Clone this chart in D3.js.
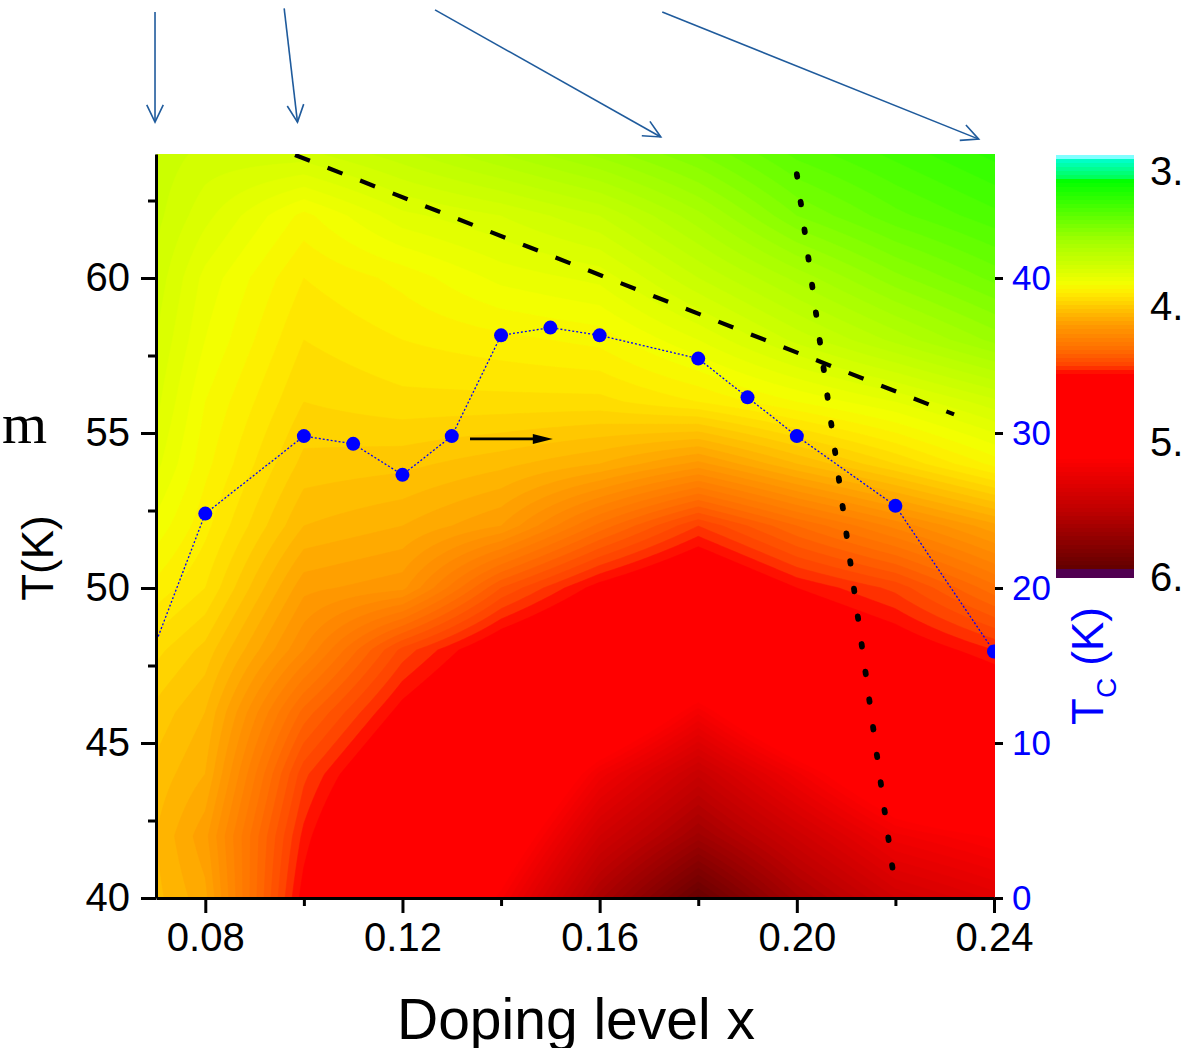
<!DOCTYPE html>
<html>
<head>
<meta charset="utf-8">
<script src="https://cdn.jsdelivr.net/npm/d3@7"></script>
<style>
  body { margin: 0; background: #fff; }
  svg { display: block; }
  text { font-family: "Liberation Sans", Arial, sans-serif; }
</style>
</head>
<body>
<svg id="chart" width="1198" height="1048"></svg>
<script>
// ---- map grid: doping columns and temperature rows ----
const dopingGrid = [0.07, 0.08, 0.10, 0.12, 0.14, 0.16, 0.18, 0.20, 0.22, 0.24];
const tempGrid = [40, 42, 44, 46, 48, 50, 52, 54, 56, 58, 60, 62, 64];
// map values, one row per temperature (40 K first), one entry per doping column
const mapRows = [
  [4.04, 4.10, 4.52, 4.82, 5.15, 5.60, 5.92, 5.62, 5.40, 5.30],
  [4.05, 4.13, 4.48, 4.72, 4.98, 5.40, 5.65, 5.42, 5.20, 5.12],
  [4.03, 4.08, 4.43, 4.62, 4.80, 5.20, 5.45, 5.20, 4.95, 4.75],
  [4.00, 4.05, 4.33, 4.52, 4.65, 4.88, 5.18, 4.88, 4.70, 4.60],
  [3.95, 4.00, 4.20, 4.42, 4.56, 4.66, 4.85, 4.62, 4.55, 4.47],
  [3.88, 3.93, 4.13, 4.16, 4.38, 4.52, 4.62, 4.50, 4.43, 4.30],
  [3.82, 3.89, 4.05, 4.08, 4.14, 4.30, 4.44, 4.32, 4.22, 4.12],
  [3.77, 3.86, 4.00, 4.01, 4.04, 4.08, 4.15, 4.05, 3.96, 3.86],
  [3.74, 3.84, 3.96, 3.94, 3.94, 3.94, 3.90, 3.84, 3.78, 3.70],
  [3.72, 3.81, 3.93, 3.90, 3.88, 3.86, 3.78, 3.68, 3.59, 3.50],
  [3.70, 3.79, 3.90, 3.86, 3.80, 3.77, 3.66, 3.56, 3.46, 3.38],
  [3.68, 3.74, 3.85, 3.76, 3.72, 3.66, 3.55, 3.42, 3.34, 3.28],
  [3.67, 3.70, 3.70, 3.64, 3.57, 3.50, 3.42, 3.32, 3.26, 3.20]
];

// ---- superconducting Tc (right axis) ----
const tcDoping = [0.06, 0.08, 0.10, 0.11, 0.12, 0.13, 0.14, 0.15, 0.16, 0.18, 0.19, 0.20, 0.22, 0.24];
const tcValues = [8.2, 24.8, 29.8, 29.3, 27.3, 29.8, 36.3, 36.8, 36.3, 34.8, 32.3, 29.8, 25.3, 15.9];

// ---- guide lines (doping, T) ----
const dashedGuide = [[0.0982, 63.97], [0.2319, 55.6]];
const dottedGuide = [[0.2000, 63.35], [0.2201, 40.17]];
const tcArrow = [[0.1337, 54.81], [0.1505, 54.81]];
// arrows above the frame: [tail, tip] in (doping, T)
const topArrows = [
  [[0.0698, 68.58], [0.0698, 65.03]],
  [[0.0960, 68.70], [0.0987, 65.03]],
  [[0.1266, 68.65], [0.1724, 64.55]],
  [[0.1727, 68.58], [0.2369, 64.48]]
];

// ---- ticks ----
const xTicks = [0.08, 0.12, 0.16, 0.20, 0.24];
const xMinorTicks = [0.10, 0.14, 0.18, 0.22];
const yTicks = [40, 45, 50, 55, 60];
const yMinorTicks = [42.5, 47.5, 52.5, 57.5, 62.5];
const tcTicks = [0, 10, 20, 30, 40];
const cbTicks = [3, 4, 5, 6];
const cbTickLabels = ["3.", "4.", "5.", "6."];

// ---- colour map (value -> colour) ----
const cmapValues = [2.88, 2.92, 2.921, 3.06, 3.07, 3.51, 3.83, 3.90, 4.03, 4.15, 4.32, 4.44, 4.47, 4.50, 5.12, 5.50, 5.95, 5.951, 6.0];
const cmapColors = ["#80ffff", "#80ffff", "#00ffc8", "#00ff50", "#00ff00", "#a0ff00", "#f4ff00", "#ffec00",
                    "#ffc000", "#ff9800", "#ff6c00", "#ff4000", "#ff2000", "#ff0000", "#ff0000", "#c00000",
                    "#600000", "#500050", "#500050"];
const color = d3.scaleLinear().domain(cmapValues).range(cmapColors).interpolate(d3.interpolateRgb).clamp(true);
const levelStep = 0.03;
const levels = d3.range(2.88, 6.0 - 1e-9, levelStep);

// ---- layout ----
const svg = d3.select("#chart");
const plot = { left: 156, right: 994, top: 154, bottom: 898 };
const x = d3.scaleLinear().domain([0.07, 0.24]).range([plot.left, plot.right]);
const y = d3.scaleLinear().domain([40, 64]).range([plot.bottom, plot.top]);
const yTc = d3.scaleLinear().domain([0, 48]).range([plot.bottom, plot.top]);
const cbar = { left: 1056, width: 78 };
const cb = d3.scaleLinear().domain([2.88, 6.0]).range([155, 577]);

svg.append("defs").append("clipPath").attr("id", "plotClip")
  .append("rect")
  .attr("x", plot.left).attr("y", plot.top)
  .attr("width", plot.right - plot.left + 1).attr("height", plot.bottom - plot.top);

// bilinear look-up in the measured grid
function fieldAt(xv, tv) {
  const i = Math.min(dopingGrid.length - 2, Math.max(0, d3.bisectRight(dopingGrid, xv) - 1));
  const j = Math.min(tempGrid.length - 2, Math.max(0, d3.bisectRight(tempGrid, tv) - 1));
  const u = (xv - dopingGrid[i]) / (dopingGrid[i + 1] - dopingGrid[i]);
  const w = (tv - tempGrid[j]) / (tempGrid[j + 1] - tempGrid[j]);
  const z00 = mapRows[j][i], z10 = mapRows[j][i + 1];
  const z01 = mapRows[j + 1][i], z11 = mapRows[j + 1][i + 1];
  return (1 - u) * (1 - w) * z00 + u * (1 - w) * z10 + (1 - u) * w * z01 + u * w * z11;
}

// resample onto a fine regular grid for the contour generator
const nx = 341, ny = 241;
const dx = 0.17 / (nx - 1), dT = 24 / (ny - 1);
const grid = new Array(nx * ny);
for (let j = 0; j < ny; j++) {
  for (let i = 0; i < nx; i++) {
    grid[j * nx + i] = fieldAt(0.07 + i * dx, 40 + j * dT);
  }
}
const contours = d3.contours().size([nx, ny]).thresholds(levels)(grid);
const proj = d3.geoTransform({
  point(px, py) {
    this.stream.point(x(0.07 + (px - 0.5) * dx), y(40 + (py - 0.5) * dT));
  }
});
const path = d3.geoPath(proj);

svg.append("g").attr("clip-path", "url(#plotClip)")
  .selectAll("path").data(contours).join("path")
  .attr("d", path)
  .attr("fill", d => color(d.value + levelStep / 2))
  .attr("stroke", d => color(d.value + levelStep / 2))
  .attr("stroke-width", 0.6);

// ---- guide lines ----
const line = d3.line().x(d => x(d[0])).y(d => y(d[1]));
const guides = svg.append("g").attr("clip-path", "url(#plotClip)");
guides.append("path").attr("d", line(dashedGuide))
  .attr("fill", "none").attr("stroke", "#000").attr("stroke-width", 4.2)
  .attr("stroke-dasharray", "16 19");
guides.append("path").attr("d", line(dottedGuide))
  .attr("fill", "none").attr("stroke", "#000").attr("stroke-width", 5.8)
  .attr("stroke-linecap", "round").attr("stroke-dasharray", "2.6 25.3");

// ---- Tc points ----
const tcData = tcDoping.map((d, k) => [d, tcValues[k]]);
const tcLine = d3.line().x(d => x(d[0])).y(d => yTc(d[1]));
const tcG = svg.append("g").attr("clip-path", "url(#plotClip)");
tcG.append("path").attr("d", tcLine(tcData))
  .attr("fill", "none").attr("stroke", "#0000ff").attr("stroke-width", 1.3)
  .attr("stroke-dasharray", "2 2");
tcG.selectAll("circle").data(tcData).join("circle")
  .attr("cx", d => x(d[0])).attr("cy", d => yTc(d[1])).attr("r", 7)
  .attr("fill", "#0000ff");

// arrow pointing to the Tc axis
{
  const [a, b] = tcArrow;
  const x0 = x(a[0]), x1 = x(b[0]), yy = y(a[1]);
  svg.append("line").attr("x1", x0).attr("x2", x1 - 16).attr("y1", yy).attr("y2", yy)
    .attr("stroke", "#000").attr("stroke-width", 2.6);
  svg.append("path")
    .attr("d", `M${x1},${yy} L${x1 - 20},${yy - 5} L${x1 - 20},${yy + 5} Z`)
    .attr("fill", "#000");
}

// ---- arrows above the frame ----
const arrowColor = "#1f5b9c";
topArrows.forEach(([tail, tip]) => {
  const x0 = x(tail[0]), y0 = y(tail[1]), x1 = x(tip[0]), y1 = y(tip[1]);
  const ang = Math.atan2(y1 - y0, x1 - x0);
  const len = 19, spread = 0.45;
  const ax = x1 - len * Math.cos(ang - spread), ay = y1 - len * Math.sin(ang - spread);
  const bx = x1 - len * Math.cos(ang + spread), by = y1 - len * Math.sin(ang + spread);
  svg.append("line").attr("x1", x0).attr("y1", y0).attr("x2", x1).attr("y2", y1)
    .attr("stroke", arrowColor).attr("stroke-width", 1.6);
  svg.append("path").attr("d", `M${ax},${ay} L${x1},${y1} L${bx},${by}`)
    .attr("fill", "none").attr("stroke", arrowColor).attr("stroke-width", 1.6);
});

// ---- axes ----
function styleAxis(g, size, fill) {
  g.selectAll("line").attr("stroke", "#000").attr("stroke-width", 3);
  g.selectAll("path.domain").attr("stroke", "#000").attr("stroke-width", 3);
  g.selectAll("text").attr("font-size", size).attr("fill", fill)
    .style("font-family", '"Liberation Sans", Arial, sans-serif');
}

const gLeft = svg.append("g").attr("transform", `translate(${plot.left},0)`)
  .call(d3.axisLeft(y).tickValues(yTicks).tickSize(15).tickSizeOuter(0).tickPadding(11).tickFormat(d3.format("d")));
styleAxis(gLeft, 40, "#000");
const gLeftMinor = svg.append("g").attr("transform", `translate(${plot.left},0)`)
  .call(d3.axisLeft(y).tickValues(yMinorTicks).tickSize(8).tickFormat(""));
gLeftMinor.select(".domain").remove();
styleAxis(gLeftMinor, 40, "#000");

const gBottom = svg.append("g").attr("transform", `translate(0,${plot.bottom})`)
  .call(d3.axisBottom(x).tickValues(xTicks).tickSize(15).tickSizeOuter(0).tickPadding(10).tickFormat(d3.format(".2f")));
styleAxis(gBottom, 40, "#000");
const gBottomMinor = svg.append("g").attr("transform", `translate(0,${plot.bottom})`)
  .call(d3.axisBottom(x).tickValues(xMinorTicks).tickSize(8).tickFormat(""));
gBottomMinor.select(".domain").remove();
styleAxis(gBottomMinor, 40, "#000");

const gRight = svg.append("g").attr("transform", `translate(${plot.right + 1},0)`)
  .call(d3.axisRight(yTc).tickValues(tcTicks).tickSize(8).tickPadding(9).tickFormat(d3.format("d")));
gRight.select(".domain").remove();
styleAxis(gRight, 35, "#0000ff");

// axis titles
svg.append("text").attr("x", 576).attr("y", 1039).attr("text-anchor", "middle")
  .attr("font-size", 57).attr("fill", "#000").text("Doping level x");
svg.append("text").attr("transform", "translate(53,558) rotate(-90)").attr("text-anchor", "middle")
  .attr("font-size", 44).attr("fill", "#000").text("T(K)");
const tcTitle = svg.append("text").attr("transform", "translate(1103,666) rotate(-90)")
  .attr("text-anchor", "middle").attr("font-size", 44).attr("fill", "#0000ff");
tcTitle.append("tspan").text("T");
tcTitle.append("tspan").attr("font-size", 28).attr("dy", 13).text("C");
tcTitle.append("tspan").attr("dy", -13).text(" (K)");

svg.append("text").attr("x", 47).attr("y", 443).attr("text-anchor", "end")
  .attr("font-size", 58).attr("fill", "#000")
  .style("font-family", '"Liberation Serif", "Times New Roman", serif').text("m");

// ---- colour bar ----
const cbG = svg.append("g");
cbG.selectAll("rect").data(levels).join("rect")
  .attr("x", cbar.left).attr("width", cbar.width)
  .attr("y", d => cb(d)).attr("height", d => Math.max(0.1, cb(d + levelStep) - cb(d) + 0.6))
  .attr("fill", d => color(d + levelStep / 2))
  .attr("shape-rendering", "crispEdges");
cbG.selectAll("text").data(cbTicks).join("text")
  .attr("x", 1150).attr("y", d => cb(d)).attr("dy", "0.35em")
  .attr("font-size", 40).attr("fill", "#000")
  .text((d, k) => cbTickLabels[k]);
</script>
</body>
</html>
